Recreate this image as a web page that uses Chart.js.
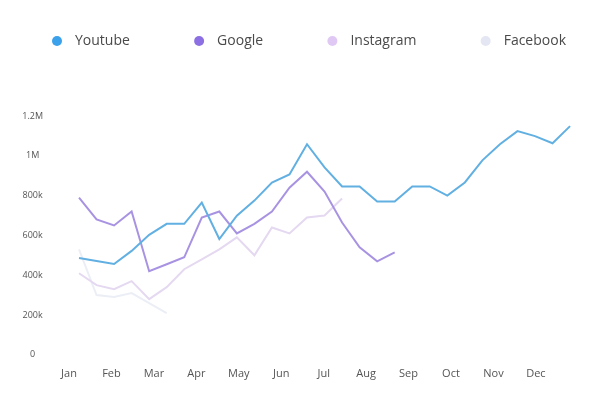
<!DOCTYPE html>
<html>
<head>
<meta charset="utf-8">
<script src="https://cdn.jsdelivr.net/npm/chart.js@4.4.0/dist/chart.umd.min.js"></script>
<style>
  html, body { margin: 0; padding: 0; background: #fff; }
  #wrap { width: 598px; height: 401px; }
</style>
</head>
<body>
<div id="wrap"><canvas id="traffic"></canvas></div>
<script>
// values are in thousands, one point roughly every 12-13 days
const months = ["Jan", "Feb", "Mar", "Apr", "May", "Jun", "Jul", "Aug", "Sep", "Oct", "Nov", "Dec"];
const seriesNames = ["Youtube", "Google", "Instagram", "Facebook"];
const youtube = [486, 471, 456, 522, 603, 658, 658, 765, 582, 699, 775, 866, 906, 1058, 942,
  846, 846, 770, 770, 846, 846, 800, 866, 977, 1058, 1124, 1099, 1063, 1149];
const google = [790, 680, 650, 720, 420, 455, 490, 690, 720, 610, 658, 720, 840, 920, 820, 665, 540, 470, 515];
const instagram = [410, 350, 330, 370, 280, 340, 430, 480, 530, 590, 500, 640, 610, 690, 700, 785];
const facebook = [530, 300, 290, 310, 260, 210];
const yTicks = [0, 200, 400, 600, 800, 1000, 1200];

const dotColors = ["#3ba1ea", "#8b6fe3", "#e0c8f5", "#e4e7f3"];
const lineColors = ["#62b0e2", "#a893e2", "#e4d9f1", "#eceef6"];

// month label positions, in point-index units
const monthStart = -0.57;
const monthStep = 2.42;

Chart.defaults.font.family = '"Open Sans", sans-serif';

const toPoints = arr => arr.map((v, i) => ({ x: i, y: v }));

// one row legend spread across the top
const legendRow = {
  id: 'legendRow',
  afterDraw(chart) {
    const ctx = chart.ctx;
    ctx.save();
    ctx.font = '14px "Open Sans", sans-serif';
    ctx.textBaseline = 'middle';
    const widths = seriesNames.map(n => ctx.measureText(n).width);
    const left = 52, right = 566, y = 41;
    const total = widths.reduce((a, w) => a + 23 + w, 0);
    const gap = (right - left - total) / (seriesNames.length - 1);
    let x = left;
    seriesNames.forEach((name, i) => {
      ctx.beginPath();
      ctx.fillStyle = dotColors[i];
      ctx.arc(x + 5, y, 5, 0, Math.PI * 2);
      ctx.fill();
      ctx.fillStyle = '#4a4a4a';
      ctx.fillText(name, x + 23, y);
      x += 23 + widths[i] + gap;
    });
    ctx.restore();
  }
};

const data = {
  datasets: [
    { label: seriesNames[0], data: toPoints(youtube), borderColor: lineColors[0] },
    { label: seriesNames[1], data: toPoints(google), borderColor: lineColors[1] },
    { label: seriesNames[2], data: toPoints(instagram), borderColor: lineColors[2] },
    { label: seriesNames[3], data: toPoints(facebook), borderColor: lineColors[3] },
  ]
};

let trafficChart = new Chart(document.getElementById("traffic").getContext("2d"), {
  type: "line",
  data: data,
  plugins: [legendRow],
  options: {
    responsive: true,
    maintainAspectRatio: false,
    animation: false,
    layout: {
      padding: { top: 116, bottom: 9, left: 0, right: 16 }
    },
    elements: {
      line: { borderWidth: 2, tension: 0, fill: false },
      point: { radius: 0 }
    },
    plugins: {
      legend: { display: false },
      tooltip: { enabled: false },
    },
    scales: {
      x: {
        type: "linear",
        min: -1.54,
        max: 28.68,
        grid: { display: false, drawTicks: false },
        border: { display: false },
        afterBuildTicks: axis => {
          axis.ticks = months.map((m, i) => ({ value: monthStart + i * monthStep }));
        },
        ticks: {
          autoSkip: false,
          maxRotation: 0,
          padding: 12,
          color: "#555",
          font: { size: 11 },
          callback: (v, i) => months[i]
        }
      },
      y: {
        min: 0,
        max: 1200,
        grid: { display: false, drawTicks: false },
        border: { display: false },
        afterFit: scale => { scale.width = 52; },
        afterBuildTicks: axis => {
          axis.ticks = yTicks.map(v => ({ value: v }));
        },
        ticks: {
          crossAlign: "center",
          padding: 9,
          color: "#555",
          font: { size: 9 },
          callback: v => v === 0 ? "0" : (v >= 1000 ? (v / 1000) + "M" : v + "k")
        }
      }
    }
  }
});
</script>
</body>
</html>
